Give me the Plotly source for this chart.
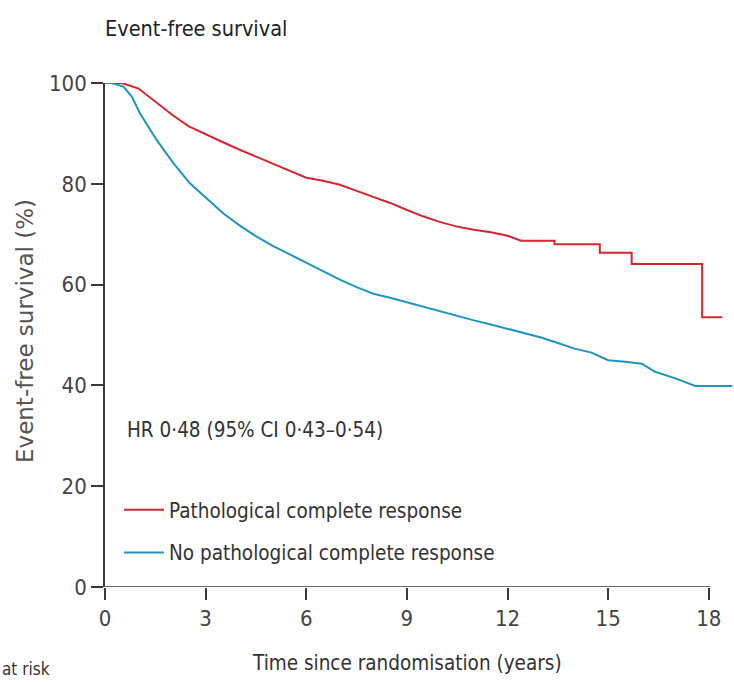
import plotly.graph_objects as go

# Event-free survival curves (time in years, survival %)
pcr_t = [0, 0.5, 1.0, 1.5, 2.0, 2.5, 3.0, 3.5, 4.0, 4.5, 5.0, 5.5, 6.0, 6.5, 7.0, 7.5,
         8.0, 8.5, 9.0, 9.5, 10.0, 10.5, 11.0, 11.5, 12.0, 12.4, 13.4, 13.4, 14.75, 14.75,
         15.7, 15.7, 17.8, 17.8, 18.4]
pcr_s = [100, 100, 98.9, 96.3, 93.7, 91.4, 89.8, 88.3, 86.8, 85.4, 84.1, 82.6, 81.2, 80.6, 79.8, 78.6,
         77.4, 76.2, 74.8, 73.5, 72.4, 71.5, 70.9, 70.4, 69.7, 68.7, 68.7, 68.0, 68.0, 66.3,
         66.3, 64.1, 64.1, 53.5, 53.5]

nopcr_t = [0, 0.2, 0.55, 0.8, 1.04, 1.3, 1.54, 1.8, 2.04, 2.53, 3.03, 3.53, 4.02, 4.52, 5.0, 5.5,
           6.0, 6.5, 7.0, 7.5, 8.0, 8.5, 9.0, 9.5, 10.0, 10.5, 11.0, 11.5, 12.0, 12.5, 13.0,
           13.5, 14.0, 14.5, 15.0, 15.5, 16.0, 16.4, 17.0, 17.6, 18.7]
nopcr_s = [100, 100, 99.3, 97.3, 94.0, 91.2, 88.7, 86.3, 84.1, 80.1, 77.1, 74.1, 71.7, 69.5, 67.7, 66.0,
           64.3, 62.7, 61.0, 59.5, 58.2, 57.4, 56.5, 55.5, 54.6, 53.8, 52.9, 52.1, 51.2, 50.4, 49.5,
           48.4, 47.3, 46.5, 45.0, 44.7, 44.3, 42.7, 41.4, 39.9, 39.9]

x_ticks = [0, 3, 6, 9, 12, 15, 18]
y_ticks = [0, 20, 40, 60, 80, 100]

series_names = ["Pathological complete response", "No pathological complete response"]
title_text = "Event-free survival"
hr_text = "HR 0·48 (95% CI 0·43–0·54)"
x_title = "Time since randomisation (years)"
y_title = "Event-free survival (%)"
risk_text = "at risk"

RED = "#d8262f"
BLUE = "#1e96c0"
NARROW = "DejaVu Sans Condensed, Liberation Sans Narrow, Arial Narrow, sans-serif"
AXC = "#3a3a3a"

W, H = 734, 682
L, R, T, B = 105, 0, 83, 95
PW, PH = W - L - R, H - T - B


def px(xp):
    return (xp - L) / PW


def py(yp):
    return (H - B - yp) / PH


fig = go.Figure()
fig.add_trace(go.Scatter(x=pcr_t, y=pcr_s, mode="lines", line=dict(color=RED, width=2),
                         name=series_names[0], legendgroup="a"))
fig.add_trace(go.Scatter(x=nopcr_t, y=nopcr_s, mode="lines", line=dict(color=BLUE, width=2),
                         name=series_names[1], legendgroup="b"))

# x axis baseline from 0 to 18 only
fig.add_shape(type="line", xref="x", yref="y", x0=0, x1=18.05, y0=0, y1=0,
              line=dict(color=AXC, width=1.6), layer="above")

fig.update_layout(
    width=W, height=H,
    margin=dict(l=L, r=R, t=T, b=B),
    plot_bgcolor="white", paper_bgcolor="white",
    showlegend=True,
    legend=dict(x=px(119), y=py(490), xanchor="left", yanchor="top",
                font=dict(family=NARROW, size=20.5, color="#333"),
                bgcolor="rgba(0,0,0,0)", tracegroupgap=13, itemwidth=40),
    xaxis=dict(range=[0, 18.75], tickvals=x_ticks, ticktext=[str(v) for v in x_ticks],
               showline=False, zeroline=False, showgrid=False,
               ticks="outside", ticklen=12, tickwidth=1.5, tickcolor=AXC,
               tickfont=dict(family=NARROW, size=22, color="#444")),
    yaxis=dict(range=[0, 100], tickvals=y_ticks, ticktext=[str(v) for v in y_ticks],
               showline=True, linecolor=AXC, linewidth=1.6, zeroline=False, showgrid=False,
               ticks="outside", ticklen=12, tickwidth=1.5, tickcolor=AXC,
               tickfont=dict(family=NARROW, size=22, color="#444")),
)

fig.add_annotation(text=title_text, xref="paper", yref="paper", x=px(103), y=py(29),
                   xanchor="left", yanchor="middle", showarrow=False,
                   font=dict(family=NARROW, size=21.5, color="#222"))
fig.add_annotation(text=hr_text, xref="paper", yref="paper", x=px(125), y=py(430),
                   xanchor="left", yanchor="middle", showarrow=False,
                   font=dict(family=NARROW, size=20.5, color="#333"))
fig.add_annotation(text=x_title, xref="x", yref="paper", x=9, y=py(663),
                   xanchor="center", yanchor="middle", showarrow=False,
                   font=dict(family=NARROW, size=20.5, color="#333"))
fig.add_annotation(text=y_title, xref="paper", yref="paper", x=px(25), y=py(331),
                   xanchor="center", yanchor="middle", showarrow=False, textangle=-90,
                   font=dict(family="DejaVu Sans, Verdana, sans-serif", size=23, color="#555"))
fig.add_annotation(text=risk_text, xref="paper", yref="paper", x=px(0), y=py(681),
                   xanchor="left", yanchor="bottom", showarrow=False,
                   font=dict(family=NARROW, size=17, color="#333"))

fig.write_html("out.html")
